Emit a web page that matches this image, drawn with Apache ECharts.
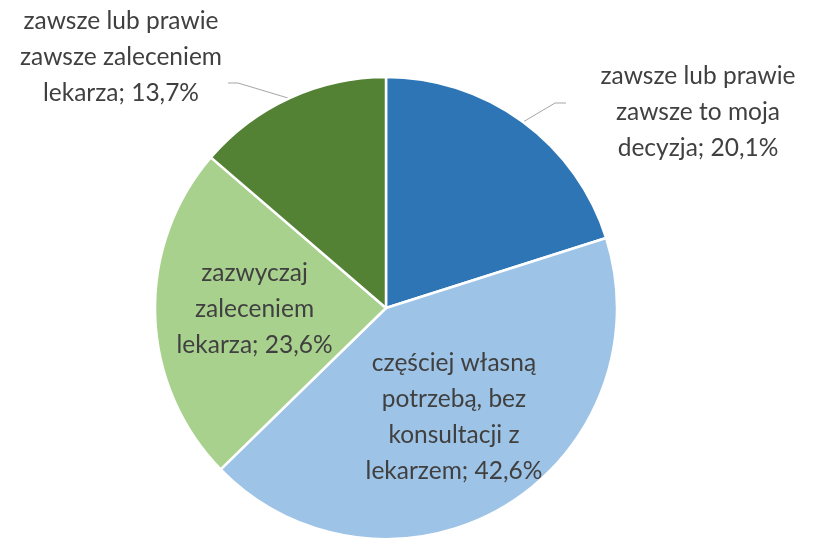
<!DOCTYPE html>
<html>
<head>
<meta charset="utf-8">
<script src="https://cdn.jsdelivr.net/npm/echarts@6/dist/echarts.min.js"></script>
<style>
  html, body { margin: 0; padding: 0; background: #fff; }
  #chart { width: 814px; height: 538px; }
</style>
</head>
<body>
<div id="chart"></div>
<script>
var categories = [
  'zawsze lub prawie\nzawsze to moja\ndecyzja',
  'częściej własną\npotrzebą, bez\nkonsultacji z\nlekarzem',
  'zazwyczaj\nzaleceniem\nlekarza',
  'zawsze lub prawie\nzawsze zaleceniem\nlekarza'
];
var values = [20.1, 42.6, 23.6, 13.7];
var colors = ['#2E75B6', '#9DC3E6', '#A9D18E', '#548235'];

// label placement (pixels) - outside labels go through labelLayout
var outsideLabelPos = { 0: [698, 112], 3: [121, 57] };
var leaderLines = {
  0: [[523, 122], [555, 103], [566, 103]],
  3: [[288, 98], [238, 83], [228, 83]]
};
var insideOffsets = { 1: [7, 7], 2: [-13, -3] };

var chart = echarts.init(document.getElementById('chart'));

var seriesData = values.map(function (v, i) {
  var item = {
    name: categories[i],
    value: v,
    itemStyle: { color: colors[i] }
  };
  if (insideOffsets[i]) {
    item.label = { position: 'inside', offset: insideOffsets[i] };
    item.labelLine = { show: false };
  }
  return item;
});

chart.setOption({
  backgroundColor: '#fff',
  animation: false,
  series: [{
    type: 'pie',
    center: [386, 308],
    radius: 231,
    startAngle: 90,
    clockwise: true,
    avoidLabelOverlap: false,
    itemStyle: { borderColor: '#fff', borderWidth: 2.5 },
    label: {
      show: true,
      position: 'outside',
      formatter: function (p) {
        return p.name + '; ' + p.value.toFixed(1).replace('.', ',') + '%';
      },
      fontFamily: 'Lato',
      fontSize: 24.5,
      lineHeight: 36,
      color: '#404040',
      align: 'center'
    },
    labelLine: {
      show: true,
      lineStyle: { color: '#A6A6A6', width: 1 }
    },
    labelLayout: function (params) {
      var pos = outsideLabelPos[params.dataIndex];
      if (!pos) return {};
      return {
        x: pos[0],
        y: pos[1],
        align: 'center',
        verticalAlign: 'middle',
        labelLinePoints: leaderLines[params.dataIndex]
      };
    },
    data: seriesData
  }]
});
</script>
</body>
</html>
